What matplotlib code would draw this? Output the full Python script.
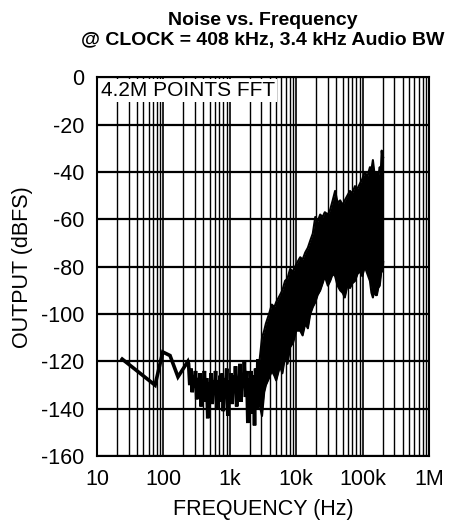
import matplotlib
matplotlib.use("Agg")
import matplotlib.pyplot as plt
from matplotlib.ticker import LogLocator, FixedLocator, NullFormatter

plt.rcParams['font.family'] = ['Liberation Sans', 'DejaVu Sans']
plt.rcParams['axes.unicode_minus'] = False

# low-frequency part of the trace (Hz, dBFS)
trace_f = [24, 75, 98, 126, 166, 234,
           240, 250, 262, 272, 283, 294, 305, 318, 330, 343, 356, 370,
           385, 400, 415, 432, 448, 466, 484, 503, 523, 544, 565, 588,
           611, 635, 660, 686, 713, 741, 770, 800, 832, 865, 899, 934,
           971, 1010, 1050, 1090, 1130, 1175, 1220, 1270, 1320, 1370,
           1425, 1480, 1540, 1600, 1660, 1730, 1800, 1870, 1940, 2020,
           2100, 2180, 2270, 2360, 2450, 2550, 2650, 2750]
trace_db = [-119, -130, -116, -117.5, -126.5, -120,
            -121, -130, -123, -133, -126, -131, -124, -136, -127, -133,
            -125, -139, -128, -132, -124, -137, -127, -144, -129, -135,
            -125, -138, -128, -133, -124, -140, -128, -134, -126, -137,
            -125, -141, -127, -134, -123, -143, -128, -135, -125, -138,
            -126, -133, -122, -139, -127, -132, -121, -137, -125, -131,
            -120, -135, -124, -146, -127, -139, -124, -142, -126, -147,
            -123, -140, -119, -138]

# dense FFT band above ~2.7 kHz: upper / lower envelope
band_f = [2800, 3060, 3300, 3500, 3900, 4300, 4700, 5000, 5700, 6200,
          6800, 7400, 8100, 9000, 10000, 11500, 12500, 13700, 15000,
          16300, 17800, 19400, 21000, 23000, 25000, 27000, 30000, 32500,
          35500, 38600, 42000, 46000, 50000, 54000, 59000, 64600, 70000,
          76800, 84000, 91000, 99000, 108000, 118000, 129000, 136000,
          143000, 150000, 158000, 164000, 172000, 181000, 188000, 194000,
          200000, 204000]
band_hi = [-120, -110, -107, -104, -100, -96, -97, -95, -92, -90,
           -86, -85, -81, -82, -79, -76, -77, -74, -72,
           -69, -66, -59, -61, -58, -59, -57, -58, -56,
           -52, -48, -53, -52, -54, -52, -50, -48, -49,
           -46, -47, -45, -43, -40, -42, -38, -39,
           -35, -40, -41, -40, -42, -38, -40, -31,
           -35, -34]
band_lo = [-138, -143, -133, -130, -127, -124, -126, -128, -122, -125,
           -118, -121, -114, -112, -107, -107, -109, -104, -106,
           -100, -97, -95, -92, -90, -87, -84, -88, -86,
           -83, -84, -88, -90, -91, -93, -88, -89, -87,
           -86, -83, -82, -84, -80, -83, -86, -91,
           -93, -90, -92, -92, -89, -88, -84, -80,
           -82, -78]

x_ticks = [10, 100, 1e3, 1e4, 1e5, 1e6]
x_labels = ['10', '100', '1k', '10k', '100k', '1M']
y_ticks = list(range(-160, 1, 20))

fig = plt.figure(figsize=(4.53, 5.25), dpi=100)
ax = fig.add_axes([0.214, 0.131, 0.733, 0.722])

ax.plot(trace_f, trace_db, color='black', lw=2.6, solid_joinstyle='miter', zorder=3)
ax.fill_between(band_f, band_lo, band_hi, color='black', lw=0, zorder=3)
ax.plot(band_f, band_hi, color='black', lw=1.5, zorder=3)
ax.plot(band_f, band_lo, color='black', lw=1.5, zorder=3)

ax.set_xscale('log')
ax.set_xlim(10, 1e6)
ax.set_ylim(-160, 0)
ax.xaxis.set_major_locator(FixedLocator(x_ticks))
ax.set_xticklabels(x_labels)
ax.xaxis.set_minor_locator(LogLocator(base=10, subs=range(2, 10), numticks=20))
ax.xaxis.set_minor_formatter(NullFormatter())
ax.set_yticks(y_ticks)

ax.grid(which='major', axis='x', color='black', lw=1.2)
ax.grid(which='minor', axis='x', color='black', lw=1.0)
ax.grid(which='major', axis='y', color='black', lw=1.6)
ax.tick_params(which='both', length=0, labelsize=15.5)
ax.tick_params(axis='y', pad=9)
ax.tick_params(axis='x', pad=9)
for s in ax.spines.values():
    s.set_linewidth(1.5)

ax.set_xlabel('FREQUENCY (Hz)', fontsize=15.5, labelpad=7)
ax.set_ylabel('OUTPUT (dBFS)', fontsize=15.5, labelpad=6)
ax.set_title('Noise vs. Frequency\n@ CLOCK = 408 kHz, 3.4 kHz Audio BW',
             fontsize=14, fontweight='bold', pad=23, linespacing=1.25)

ax.text(0.013, 0.99, '4.2M POINTS FFT', transform=ax.transAxes, fontsize=15,
        va='top', ha='left', zorder=5,
        bbox=dict(facecolor='white', edgecolor='none', pad=1.5))

fig.savefig('out.png', dpi=100)
